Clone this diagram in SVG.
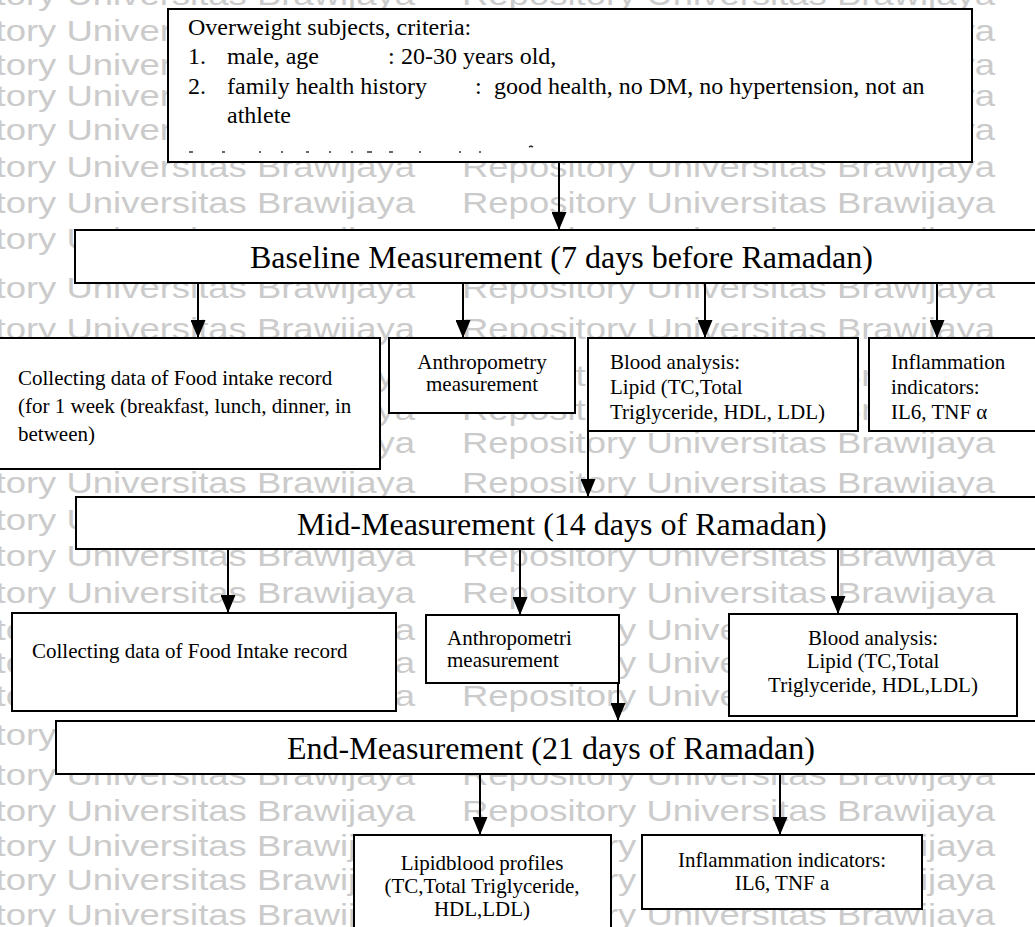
<svg xmlns="http://www.w3.org/2000/svg" width="1035" height="927" viewBox="0 0 1035 927">
<style>
.wm{font-family:"Liberation Sans",Arial,sans-serif;font-size:30px;fill:#cbcbcb}
.box{fill:#fff;stroke:#000;stroke-width:2}
.t{font-family:"Liberation Serif","Times New Roman",serif;font-size:21px;fill:#000}
.tt{font-family:"Liberation Serif","Times New Roman",serif;font-size:24px;fill:#000}
.ph{font-family:"Liberation Serif","Times New Roman",serif;font-size:32px;fill:#000}
.c{text-anchor:middle}
.ln{stroke:#000;stroke-width:2;fill:none}
</style>
<defs>
<marker id="ah" viewBox="0 0 18 15" refX="18" refY="7.5" markerWidth="18" markerHeight="15" markerUnits="userSpaceOnUse" orient="auto">
<path d="M0,0 L18,7.5 L0,15 Z" fill="#000"/>
</marker>
<g id="wmrow">
<text class="wm" x="-118" y="0" textLength="533" lengthAdjust="spacingAndGlyphs">Repository Universitas Brawijaya</text>
<text class="wm" x="462" y="0" textLength="533" lengthAdjust="spacingAndGlyphs">Repository Universitas Brawijaya</text>
</g>
</defs>
<rect width="1035" height="927" fill="#fff"/>
<g id="watermark">
<use href="#wmrow" y="5"/><use href="#wmrow" y="41"/><use href="#wmrow" y="75"/><use href="#wmrow" y="106"/>
<use href="#wmrow" y="140"/><use href="#wmrow" y="177"/><use href="#wmrow" y="213"/><use href="#wmrow" y="249"/>
<use href="#wmrow" y="298"/><use href="#wmrow" y="339"/><use href="#wmrow" y="386"/><use href="#wmrow" y="420"/>
<use href="#wmrow" y="453"/><use href="#wmrow" y="493"/><use href="#wmrow" y="530"/><use href="#wmrow" y="566"/>
<use href="#wmrow" y="603"/><use href="#wmrow" y="640"/><use href="#wmrow" y="673"/><use href="#wmrow" y="706"/>
<use href="#wmrow" y="745"/><use href="#wmrow" y="785"/><use href="#wmrow" y="821"/><use href="#wmrow" y="856"/>
<use href="#wmrow" y="890"/><use href="#wmrow" y="925"/>
</g>
<g id="criteria">
<rect class="box" x="168" y="9" width="804" height="153"/>
<text class="tt" x="188" y="35">Overweight subjects, criteria:</text>
<text class="tt" x="188" y="64">1.</text><text class="tt" x="227" y="64">male, age</text><text class="tt" x="388" y="64">:</text><text class="tt" x="401" y="64">20-30 years old,</text>
<text class="tt" x="188" y="94">2.</text><text class="tt" x="227" y="94">family health history</text><text class="tt" x="475" y="94">:</text><text class="tt" x="494" y="94">good health, no DM, no hypertension, not an</text>
<text class="tt" x="227" y="123">athlete</text>
<path d="M189,152h4M222,152h3M259,152h2M281,152h2M306,152h3M329,152h2M351,152h2M367,152h5M389,152h4M419,152h2M459,152h2M479,152h2M529,147l2,-1 2,1" stroke="#333" stroke-width="1.5" fill="none"/>
</g>
<g id="baseline">
<rect class="box" x="75" y="230" width="970" height="53"/>
<text class="ph" x="250" y="268">Baseline Measurement (7 days before Ramadan)</text>
</g>
<g id="food1">
<rect class="box" x="-5" y="338" width="385" height="131"/>
<text class="t" x="18" y="385">Collecting data of Food intake record</text>
<text class="t" x="18" y="413">(for 1 week (breakfast, lunch, dinner, in</text>
<text class="t" x="18" y="441">between)</text>
</g>
<g id="anthro1">
<rect class="box" x="389" y="338" width="186" height="75"/>
<text class="t c" x="482" y="369">Anthropometry</text>
<text class="t c" x="482" y="391">measurement</text>
</g>
<g id="blood1">
<rect class="box" x="588" y="338" width="270" height="93"/>
<text class="t" x="610" y="369">Blood analysis:</text>
<text class="t" x="610" y="394">Lipid (TC,Total</text>
<text class="t" x="610" y="419">Triglyceride, HDL, LDL)</text>
</g>
<g id="inflam1">
<rect class="box" x="869" y="338" width="180" height="93"/>
<text class="t" x="891" y="369">Inflammation</text>
<text class="t" x="891" y="394">indicators:</text>
<text class="t" x="891" y="419">IL6, TNF α</text>
</g>
<g id="mid">
<rect class="box" x="76" y="497" width="970" height="52"/>
<text class="ph" x="297" y="535">Mid-Measurement (14 days of Ramadan)</text>
</g>
<g id="food2">
<rect class="box" x="12" y="613" width="384" height="98"/>
<text class="t" x="32" y="658">Collecting data of Food Intake record</text>
</g>
<g id="anthro2">
<rect class="box" x="426" y="615" width="193" height="68"/>
<text class="t" x="447" y="645">Anthropometri</text>
<text class="t" x="447" y="667">measurement</text>
</g>
<g id="blood2">
<rect class="box" x="729" y="614" width="288" height="102"/>
<text class="t c" x="873" y="645">Blood analysis:</text>
<text class="t c" x="873" y="668">Lipid (TC,Total</text>
<text class="t c" x="873" y="692">Triglyceride, HDL,LDL)</text>
</g>
<g id="end">
<rect class="box" x="56" y="721" width="990" height="53"/>
<text class="ph" x="287" y="759">End-Measurement (21 days of Ramadan)</text>
</g>
<g id="lipid3">
<rect class="box" x="354" y="835" width="257" height="110"/>
<text class="t c" x="482" y="870">Lipidblood profiles</text>
<text class="t c" x="482" y="893">(TC,Total Triglyceride,</text>
<text class="t c" x="482" y="916">HDL,LDL)</text>
</g>
<g id="inflam3">
<rect class="box" x="642" y="835" width="280" height="74"/>
<text class="t c" x="782" y="867">Inflammation indicators:</text>
<text class="t c" x="782" y="890">IL6, TNF a</text>
</g>
<g id="connectors">
<line class="ln" x1="559" y1="163" x2="559" y2="230" marker-end="url(#ah)"/>
<line class="ln" x1="198" y1="284" x2="198" y2="338" marker-end="url(#ah)"/>
<line class="ln" x1="463" y1="284" x2="463" y2="338" marker-end="url(#ah)"/>
<line class="ln" x1="705" y1="284" x2="705" y2="338" marker-end="url(#ah)"/>
<line class="ln" x1="937" y1="284" x2="937" y2="338" marker-end="url(#ah)"/>
<line class="ln" x1="588" y1="432" x2="588" y2="497" marker-end="url(#ah)"/>
<line class="ln" x1="228" y1="550" x2="228" y2="613" marker-end="url(#ah)"/>
<line class="ln" x1="520" y1="550" x2="520" y2="615" marker-end="url(#ah)"/>
<line class="ln" x1="838" y1="550" x2="838" y2="614" marker-end="url(#ah)"/>
<line class="ln" x1="618" y1="684" x2="618" y2="721" marker-end="url(#ah)"/>
<line class="ln" x1="480" y1="775" x2="480" y2="835" marker-end="url(#ah)"/>
<line class="ln" x1="780" y1="775" x2="780" y2="835" marker-end="url(#ah)"/>
</g>
</svg>
